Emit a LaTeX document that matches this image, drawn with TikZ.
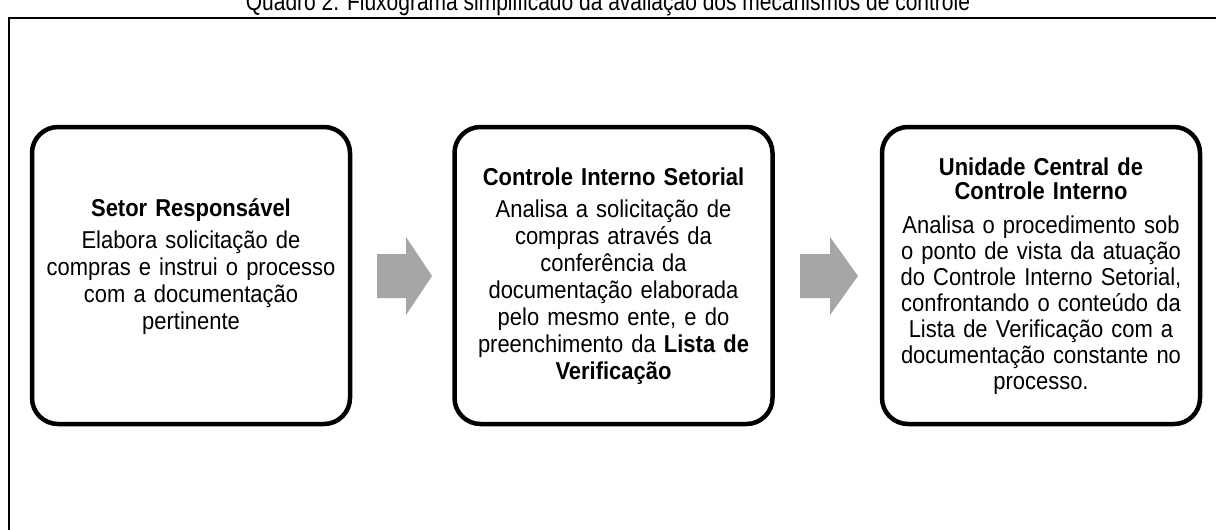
\documentclass[tikz,border=0pt]{standalone}
\usepackage{fontspec}
\setmainfont{Liberation Sans}[FakeStretch=0.9]
\newfontfamily\narrowfont{Liberation Sans}[FakeStretch=0.82]
\begin{document}
\begin{tikzpicture}[x=1pt,y=-1pt,
  box/.style={draw=black, line width=4.5pt, rounded corners=26pt, fill=white,
    minimum width=318pt, minimum height=297pt, inner sep=0pt},
  txt/.style={text width=304pt, align=center, inner sep=0pt,
    font=\fontsize{24.4}{27}\selectfont},
  garrow/.style={fill=black!35, draw=none},
  frame/.style={draw=black, line width=1.5pt}]
\useasboundingbox (0,0) rectangle (1216,530);
\draw[frame] (9,600) -- (9,18) -- (1300,18);
\node[anchor=base, font=\narrowfont\fontsize{25.6}{28}\selectfont] (title) at (608,10.5)
  {Quadro 2. Fluxograma simplificado da avaliação dos mecanismos de controle};
\node[box] (b1) at (191,275.5) {};
\node[box] (b2) at (613.5,275.5) {};
\node[box] (b3) at (1041,275.5) {};
\node[txt] (t1) at ([yshift=9pt]b1.center) {\textbf{Setor Responsável}\\[5pt]
  Elabora solicitação de\\ compras e instrui o processo\\ com a documentação\\ pertinente};
\node[txt] (t2) at ([yshift=-1pt]b2.center) {\textbf{Controle Interno Setorial}\\[5pt]
  Analisa a solicitação de\\ compras através da\\ conferência da\\ documentação elaborada\\
  pelo mesmo ente, e do\\ preenchimento da \textbf{Lista de}\\ \textbf{Verificação}};
\node[txt, font=\fontsize{24.4}{26}\selectfont] (t3) at ([yshift=-1pt]b3.center) {\textbf{Unidade Central de}\\[-2pt] \textbf{Controle Interno}\\[8pt]
  Analisa o procedimento sob\\ o ponto de vista da atuação\\ do Controle Interno Setorial,\\
  confrontando o conteúdo da\\ Lista de Verificação com a\\ documentação constante no\\ processo.};
\fill[garrow] (377,254) -- (406,254) -- (406,237) -- (432,276) -- (406,315) -- (406,298) -- (377,298) -- cycle;
\fill[garrow] (800,254) -- (830,254) -- (830,237) -- (858,276) -- (830,315) -- (830,298) -- (800,298) -- cycle;
\end{tikzpicture}
\end{document}
